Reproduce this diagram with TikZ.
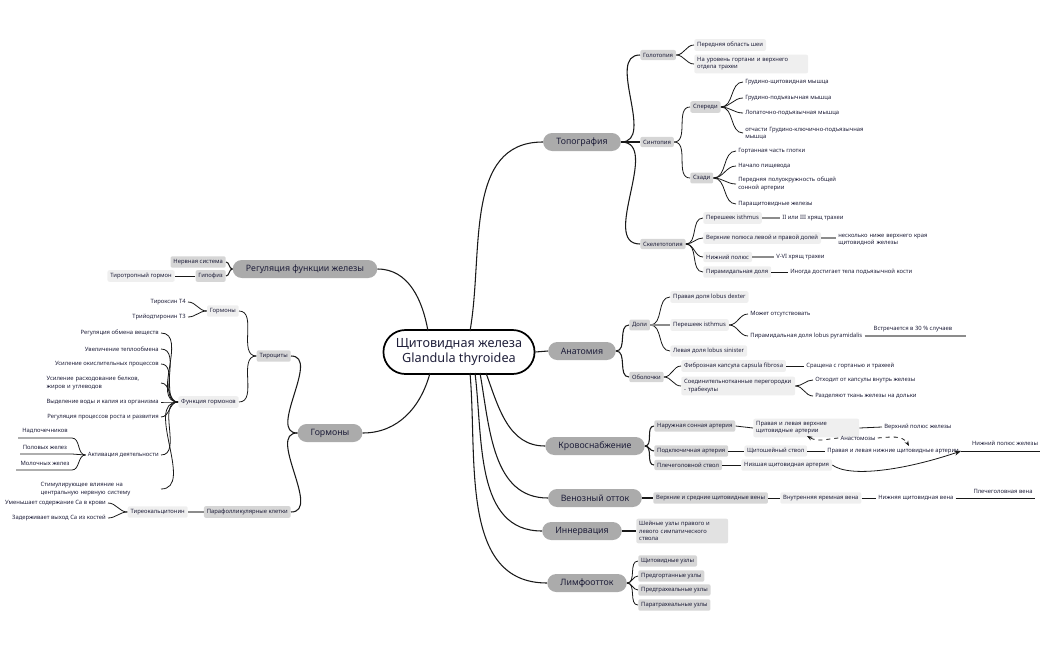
\documentclass[tikz,border=0pt]{standalone}
\usepackage{fontspec}
\setmainfont{Noto Sans}
\usetikzlibrary{shapes.misc,arrows.meta}
\definecolor{ink}{HTML}{1F1F3A}
\definecolor{mainc}{HTML}{ABABAB}
\definecolor{subc}{HTML}{D6D6D6}
\definecolor{lboxc}{HTML}{EFEFEF}
\tikzset{
 root/.style={draw=black,line width=1.3pt,fill=white,rounded rectangle,minimum width=160*0.75pt,minimum height=44*0.75pt,font=\fontsize{9.5}{11.5}\selectfont\bfseries,text=ink,align=center},
 main/.style={fill=mainc,rounded rectangle,minimum height=18*0.75pt,inner xsep=9pt,font=\fontsize{6.6}{8}\selectfont\bfseries,text=ink},
 sub/.style={fill=subc,rounded corners=1.5pt,inner sep=2.2pt,font=\fontsize{4.4}{5.4}\selectfont,text=ink,align=left},
 lbox/.style={fill=lboxc,rounded corners=1.5pt,inner sep=2.2pt,font=\fontsize{4.4}{5.4}\selectfont,text=ink,align=left},
 leaf/.style={inner sep=1.5pt,font=\fontsize{4.4}{5.4}\selectfont,text=ink,align=left},
 e/.style={draw=black!90,line width=0.8pt},
 s/.style={draw=black!90,line width=0.6pt},
 g/.style={draw=black!45,line width=1.2pt},
}
\newcommand{\rc}[2]{\draw[s] (#1.east) to[out=0,in=180] (#2.west);}
\newcommand{\lc}[2]{\draw[s] (#1.west) to[out=180,in=0] (#2.east);}
\begin{document}
\begin{tikzpicture}[x=0.75pt,y=-0.75pt]
\useasboundingbox (0,0) rectangle (1050,650);
% root and main
\node[root] (root) at (459,352) {Щитовидная железа\\Glandula thyroidea};
\node[main] (top) at (582,142) {Топография};
\node[main] (ana) at (582,351) {Анатомия};
\node[main] (blood) at (595,446) {Кровоснабжение};
\node[main] (ven) at (595,498) {Венозный отток};
\node[main] (inn) at (582,531) {Иннервация};
\node[main] (lym) at (587,583) {Лимфоотток};
\node[main] (reg) at (305,269) {Регуляция функции железы};
\node[main] (horm) at (330,433) {Гормоны};
\coordinate (rt1) at (470,331); \coordinate (rt2) at (428,331);
\coordinate (rb1) at (486,373); \coordinate (rb2) at (480,373);
\coordinate (rb3) at (475,373); \coordinate (rb4) at (470,373);
\coordinate (rb5) at (430,373);
\draw[e] (rt1) to[out=80,in=180] (top.west);
\draw[e] (rt2) to[out=100,in=0] (reg.east);
\draw[e] (root.east) -- (ana.west);
\draw[e] (rb1) to[out=-70,in=180] (blood.west);
\draw[e] (rb2) to[out=-80,in=180] (ven.west);
\draw[e] (rb3) to[out=-83,in=180] (inn.west);
\draw[e] (rb4) to[out=-85,in=180] (lym.west);
\draw[e] (rb5) to[out=-105,in=0] (horm.east);
% Topography
\node[sub,anchor=west] (golo) at (640,55) {Голотопия};
\node[sub,anchor=west] (sint) at (640,142) {Синтопия};
\node[sub,anchor=west] (skel) at (640,244) {Скелетотопия};
\draw[e] (top.east) to[out=0,in=180] (golo.west);
\draw[e] (top.east) to[out=0,in=180] (sint.west);
\draw[e] (top.east) to[out=0,in=180] (skel.west);
\node[lbox,anchor=west] (g1) at (694,45) {Передняя область шеи};
\node[lbox,anchor=west,text width=108*0.75pt] (g2) at (694,64) {На уровень гортани и верхнего отдела трахеи};
\rc{golo}{g1}\rc{golo}{g2}
\node[sub,anchor=west] (spe) at (690,107) {Спереди};
\node[sub,anchor=west] (sza) at (690,178) {Сзади};
\rc{sint}{spe}\rc{sint}{sza}
\node[leaf,anchor=west] (sp1) at (743,82) {Грудино-щитовидная мышца};
\node[leaf,anchor=west] (sp2) at (743,98) {Грудино-подъязычная мышца};
\node[leaf,anchor=west] (sp3) at (743,113) {Лопаточно-подъязычная мышца};
\node[leaf,anchor=west,text width=120*0.75pt] (sp4) at (743,133) {отчасти Грудино-ключично-подъязычная мышца};
\rc{spe}{sp1}\rc{spe}{sp2}\rc{spe}{sp3}\rc{spe}{sp4}
\node[leaf,anchor=west] (sz1) at (736,151) {Гортанная часть глотки};
\node[leaf,anchor=west] (sz2) at (736,166) {Начало пищевода};
\node[leaf,anchor=west,text width=118*0.75pt] (sz3) at (736,184) {Передняя полуокружность общей сонной артерии};
\node[leaf,anchor=west] (sz4) at (736,204) {Паращитовидные железы};
\rc{sza}{sz1}\rc{sza}{sz2}\rc{sza}{sz3}\rc{sza}{sz4}
\node[lbox,anchor=west] (sk1) at (703,218) {Перешеек isthmus};
\node[lbox,anchor=west] (sk2) at (703,238) {Верхние полюса левой и правой долей};
\node[lbox,anchor=west] (sk3) at (703,257) {Нижний полюс};
\node[lbox,anchor=west] (sk4) at (703,272) {Пирамидальная доля};
\rc{skel}{sk1}\rc{skel}{sk2}\rc{skel}{sk3}\rc{skel}{sk4}
\node[leaf,anchor=west] (sk1a) at (780,218) {II или III хрящ трахеи};
\node[leaf,anchor=west,text width=122*0.75pt] (sk2a) at (836,240) {несколько ниже верхнего края щитовидной железы};
\node[leaf,anchor=west] (sk3a) at (774,257) {V-VI хрящ трахеи};
\node[leaf,anchor=west] (sk4a) at (788,272) {Иногда достигает тела подъязычной кости};
\draw[g] (sk1.east) -- (sk1a.west); \draw[g] (sk2.east) -- (sk2a.west|-sk2.east);
\draw[g] (sk3.east) -- (sk3a.west); \draw[s] (sk4.east) -- (sk4a.west);
% Anatomy
\node[sub,anchor=west] (doli) at (629,325) {Доли};
\node[sub,anchor=west] (obol) at (629,377) {Оболочки};
\draw[e] (ana.east) to[out=0,in=180] (doli.west);
\draw[e] (ana.east) to[out=0,in=180] (obol.west);
\node[lbox,anchor=west] (d1) at (670,297) {Правая доля lobus dexter};
\node[lbox,anchor=west] (d2) at (670,325) {Перешеек isthmus};
\node[lbox,anchor=west] (d3) at (670,351) {Левая доля lobus sinister};
\rc{doli}{d1}\rc{doli}{d3}\draw[g] (doli.east) -- (d2.west);
\node[leaf,anchor=west] (d2a) at (748,314) {Может отсутствовать};
\node[leaf,anchor=west] (d2b) at (748,336) {Пирамидальная доля lobus pyramidalis};
\rc{d2}{d2a}\rc{d2}{d2b}
\coordinate (d2e) at (966,336);
\draw[g] (d2b.east) -- (d2e);
\node[leaf,anchor=south] (d2c) at (913,334) {Встречается в 30 \% случаев};
\node[lbox,anchor=west] (o1) at (681,366) {Фиброзная капсула capsula fibrosa};
\node[lbox,anchor=west,text width=108*0.75pt] (o2) at (681,386) {Соединительнотканные перегородки - трабекулы};
\rc{obol}{o1}\rc{obol}{o2}
\node[leaf,anchor=west] (o1a) at (804,366) {Сращена с гортанью и трахеей};
\node[leaf,anchor=west] (o2a) at (813,380) {Отходит от капсулы внутрь железы};
\node[leaf,anchor=west] (o2b) at (813,396) {Разделяют ткань железы на дольки};
\draw[s] (o1.east) -- (o1a.west); \rc{o2}{o2a}\rc{o2}{o2b}
% Blood
\node[sub,anchor=west] (b1) at (654,426) {Наружная сонная артерия};
\node[sub,anchor=west] (b2) at (654,451) {Подключичная артерия};
\node[sub,anchor=west] (b3) at (654,465) {Плечеголовной ствол};
\draw[e] (blood.east) to[out=0,in=180] (b1.west);
\draw[e] (blood.east) to[out=0,in=180] (b2.west);
\draw[e] (blood.east) to[out=0,in=180] (b3.west);
\node[lbox,anchor=west,text width=100*0.75pt] (b1a) at (753,428) {Правая и левая верхние щитовидные артерии};
\node[leaf,anchor=west] (b1b) at (882,427) {Верхний полюс железы};
\draw[s] (b1.east) -- (b1a.west); \draw[s] (b1a.east) -- (b1b.west);
\node[lbox,anchor=west] (b2a) at (744,451) {Щитошейный ствол};
\node[leaf,anchor=west] (b2b) at (825,451) {Правая и левая нижние щитовидные артерии};
\draw[s] (b2.east) -- (b2a.west); \draw[s] (b2a.east) -- (b2b.west);
\coordinate (b2e) at (1040,451);
\draw[s] (b2b.east) -- (b2e);
\node[leaf,anchor=south] (b2c) at (1005,448) {Нижний полюс железы};
\node[lbox,anchor=west] (b3a) at (741,465) {Низшая щитовидная артерия};
\draw[s] (b3.east) -- (b3a.west);
\draw[s,-{Stealth[length=5pt]}] (b3a.east) .. controls (850,478) and (905,470) .. (b2b.east);
\node[leaf] (anas) at (858,438) {Анастомозы};
\coordinate (an1) at (807,436); \coordinate (an2) at (909,446);
\draw[s,dashed,-{Stealth[length=4pt]}] (anas.west) to[out=185,in=-30] (an1);
\draw[s,dashed,-{Stealth[length=4pt]}] (anas.east) to[out=5,in=120] (an2);
% Venous
\node[sub,anchor=west] (v1) at (653,498) {Верхние и средние щитовидные вены};
\node[lbox,anchor=west] (v2) at (780,498) {Внутренняя яремная вена};
\node[leaf,anchor=west] (v3) at (876,498) {Нижняя щитовидная вена};
\coordinate (ve) at (1035,498);
\draw[e] (ven.east) -- (v1.west); \draw[s] (v1.east) -- (v2.west);
\draw[s] (v2.east) -- (v3.west); \draw[s] (v3.east) -- (ve);
\node[leaf,anchor=south] (v4) at (1003,496) {Плечеголовная вена};
% Innervation
\node[lbox,fill=subc!70,anchor=west,text width=86*0.75pt] (i1) at (636,531) {Шейные узлы правого и левого симпатического ствола};
\draw[e] (inn.east) -- (i1.west);
% Lymph
\node[sub,anchor=west] (l1) at (638,561) {Щитовидные узлы};
\node[sub,anchor=west] (l2) at (638,576) {Предгортанные узлы};
\node[sub,anchor=west] (l3) at (638,590) {Предтрахеальные узлы};
\node[sub,anchor=west] (l4) at (638,605) {Паратрахеальные узлы};
\rc{lym}{l1}\rc{lym}{l2}\rc{lym}{l3}\rc{lym}{l4}
% Regulation
\node[sub,anchor=east] (r1) at (226,262) {Нервная система};
\node[sub,anchor=east] (r2) at (226,276) {Гипофиз};
\node[lbox,anchor=east] (r2a) at (175,276) {Тиротропный гормон};
\draw[e] (reg.west) to[out=180,in=0] (r1.east);
\draw[e] (reg.west) to[out=180,in=0] (r2.east);
\draw[s] (r2.west) -- (r2a.east);
% Hormones
\node[sub,anchor=east] (h1) at (291,356) {Тироциты};
\node[sub,anchor=east] (h2) at (291,512) {Парафолликулярные клетки};
\draw[e] (horm.west) to[out=180,in=0] (h1.east);
\draw[e] (horm.west) to[out=180,in=0] (h2.east);
\node[lbox,anchor=east] (t1) at (239,311) {Гормоны};
\node[lbox,anchor=east] (t2) at (239,402) {Функция гормонов};
\lc{h1}{t1}\lc{h1}{t2}
\node[leaf,anchor=east] (t1a) at (188,302) {Тироксин Т4};
\node[leaf,anchor=east] (t1b) at (188,317) {Трийодтиронин Т3};
\lc{t1}{t1a}\lc{t1}{t1b}
\node[leaf,anchor=east] (f1) at (161,333) {Регуляция обмена веществ};
\node[leaf,anchor=east] (f2) at (161,349) {Увеличение теплообмена};
\node[leaf,anchor=east] (f3) at (161,364) {Усиление окислительных процессов};
\node[leaf,anchor=east,text width=112*0.75pt] (f4) at (161,383) {Усиление расходование белков, жиров и углеводов};
\node[leaf,anchor=east] (f5) at (161,402) {Выделение воды и калия из организма};
\node[leaf,anchor=east] (f6) at (161,417) {Регуляция процессов роста и развития};
\node[leaf,anchor=east] (f7) at (161,455) {Активация деятельности};
\node[leaf,anchor=east,text width=118*0.75pt] (f8) at (161,489) {Стимулирующее влияние на центральную нервную систему};
\foreach \f in {f1,f2,f3,f4,f5,f6,f7,f8}{\draw[s] (t2.west) to[out=180,in=0] (\f.east);}
\node[leaf,anchor=south] (a1) at (45,436) {Надпочечников};
\node[leaf,anchor=south] (a2) at (45,452) {Половых желез};
\node[leaf,anchor=south] (a3) at (45,468) {Молочных желез};
\coordinate (a1l) at (18,438); \coordinate (a2l) at (20,454); \coordinate (a3l) at (16,470);
\coordinate (a1r) at (72,438); \coordinate (a2r) at (72,454); \coordinate (a3r) at (72,470);
\draw[s] (f7.west) to[out=180,in=0] (a1r) -- (a1l);
\draw[s] (f7.west) -- (a2r) -- (a2l);
\draw[s] (f7.west) to[out=180,in=0] (a3r) -- (a3l);
\node[lbox,anchor=east] (p1) at (188,512) {Тиреокальцитонин};
\draw[g] (h2.west) -- (p1.east);
\node[leaf,anchor=east] (p1a) at (108,503) {Уменьшает содержание Ca в крови};
\node[leaf,anchor=east] (p1b) at (108,518) {Задерживает выход Ca из костей};
\lc{p1}{p1a}\lc{p1}{p1b}
\end{tikzpicture}
\end{document}
